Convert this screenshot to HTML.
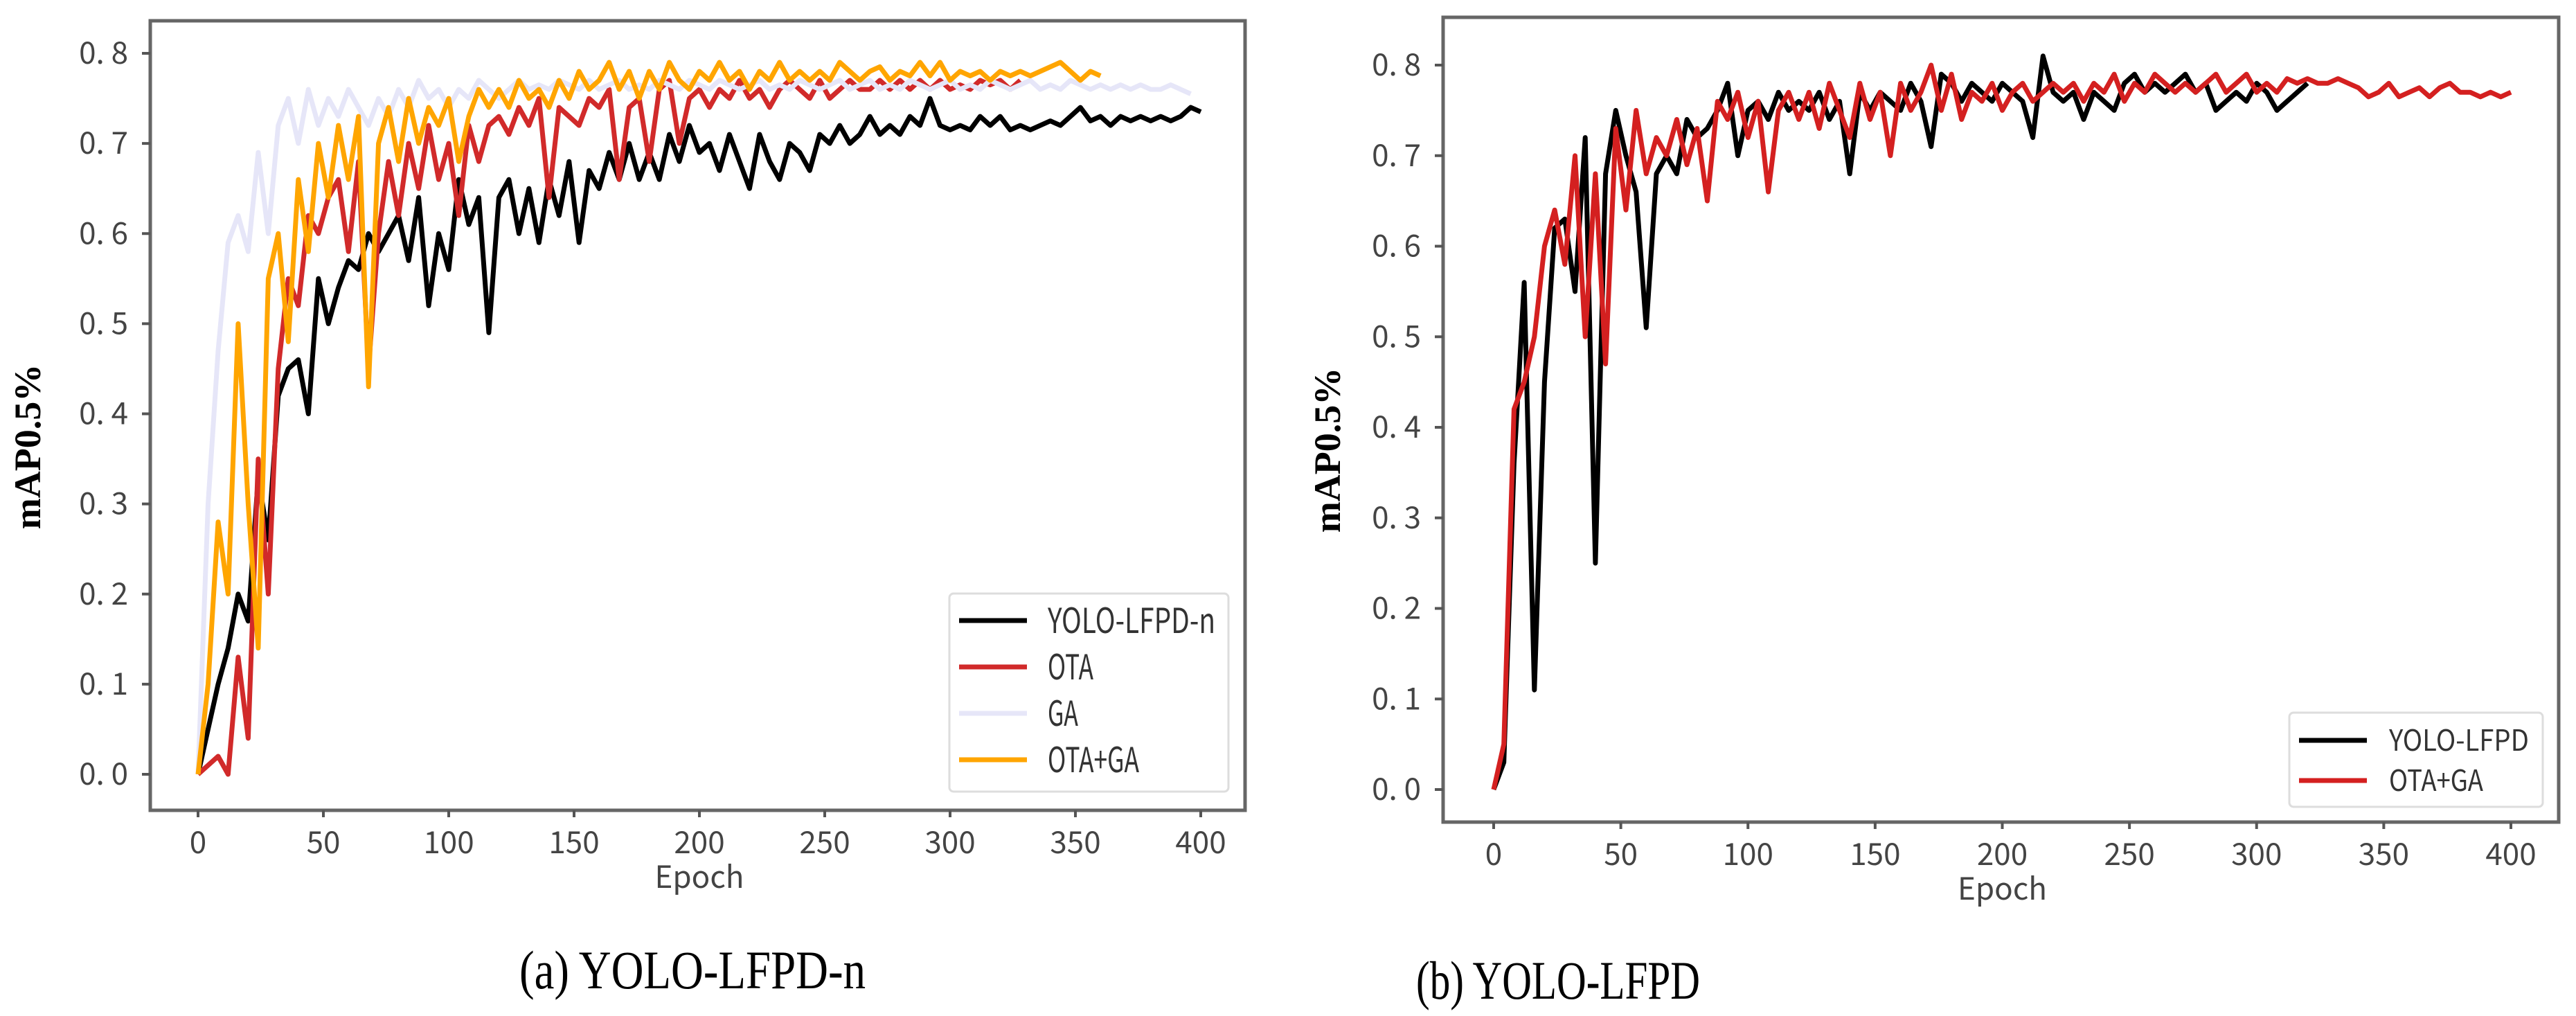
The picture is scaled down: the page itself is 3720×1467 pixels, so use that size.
<!DOCTYPE html>
<html><head><meta charset="utf-8"><style>
html,body{margin:0;padding:0;background:#fff;}
svg{display:block;}
.tick{font-family:"WenQuanYi Zen Hei","Noto Sans CJK SC",sans-serif;fill:#444;font-size:44px;}
.leg{font-family:"WenQuanYi Zen Hei","Noto Sans CJK SC",sans-serif;fill:#333;}
.ylab{font-family:"Liberation Serif",serif;font-weight:bold;font-size:54px;fill:#000;}
.cap{font-family:"Liberation Serif","Noto Serif CJK SC",serif;font-size:78px;fill:#000;}
</style></head><body>
<svg id="fig" width="3720" height="1467" viewBox="0 0 3720 1467" xmlns="http://www.w3.org/2000/svg">
<rect width="3720" height="1467" fill="#fff"/>
<g id="chartA"></g>
<g id="chartB"></g>
<text class="cap" x="750" y="1427" textLength="500" lengthAdjust="spacingAndGlyphs">(a) YOLO-LFPD-n</text>
<text class="cap" x="2045" y="1442" textLength="410" lengthAdjust="spacingAndGlyphs">(b) YOLO-LFPD</text>
</svg>
<script>
const xTicks=[0,50,100,150,200,250,300,350,400];
const yTicks=[0.0,0.1,0.2,0.3,0.4,0.5,0.6,0.7,0.8];
const yTickLabels=["0. 0","0. 1","0. 2","0. 3","0. 4","0. 5","0. 6","0. 7","0. 8"];
const stepEpochs=4;
// Chart A series (sampled every 4 epochs)
const aYolo=[0,0.05,0.1,0.14,0.2,0.17,0.33,0.26,0.42,0.45,0.46,0.4,0.55,0.5,0.54,0.57,0.56,0.6,0.58,0.6,0.62,0.57,0.64,0.52,0.6,0.56,0.66,0.61,0.64,0.49,0.64,0.66,0.6,0.65,0.59,0.66,0.62,0.68,0.59,0.67,0.65,0.69,0.66,0.7,0.66,0.69,0.66,0.71,0.68,0.72,0.69,0.7,0.67,0.71,0.68,0.65,0.71,0.68,0.66,0.7,0.69,0.67,0.71,0.7,0.72,0.7,0.71,0.73,0.71,0.72,0.71,0.73,0.72,0.75,0.72,0.715,0.72,0.715,0.73,0.72,0.73,0.715,0.72,0.715,0.72,0.725,0.72,0.73,0.74,0.725,0.73,0.72,0.73,0.725,0.73,0.725,0.73,0.725,0.73,0.74,0.735];
const aOta=[0,0.01,0.02,0.0,0.13,0.04,0.35,0.2,0.45,0.55,0.52,0.62,0.6,0.64,0.66,0.58,0.68,0.45,0.6,0.68,0.62,0.7,0.65,0.72,0.66,0.7,0.62,0.72,0.68,0.72,0.73,0.71,0.74,0.72,0.75,0.64,0.74,0.73,0.72,0.75,0.74,0.76,0.66,0.74,0.75,0.68,0.76,0.77,0.7,0.75,0.76,0.74,0.76,0.75,0.77,0.75,0.76,0.74,0.76,0.77,0.76,0.75,0.77,0.75,0.76,0.77,0.76,0.76,0.77,0.76,0.77,0.76,0.77,0.76,0.77,0.76,0.765,0.76,0.77,0.765,0.77,0.76,0.77];
const aGa=[0,0.3,0.47,0.59,0.62,0.58,0.69,0.6,0.72,0.75,0.7,0.76,0.72,0.75,0.73,0.76,0.74,0.72,0.75,0.73,0.76,0.74,0.77,0.75,0.76,0.74,0.76,0.75,0.77,0.76,0.75,0.76,0.77,0.76,0.765,0.76,0.77,0.765,0.76,0.77,0.76,0.765,0.77,0.76,0.765,0.76,0.77,0.765,0.76,0.77,0.765,0.76,0.77,0.765,0.76,0.765,0.77,0.76,0.765,0.76,0.77,0.765,0.76,0.765,0.77,0.76,0.765,0.77,0.76,0.765,0.76,0.77,0.765,0.76,0.765,0.77,0.76,0.765,0.76,0.77,0.765,0.76,0.765,0.77,0.76,0.765,0.76,0.77,0.765,0.76,0.765,0.76,0.765,0.76,0.765,0.76,0.76,0.765,0.76,0.755];
const aOtaGa=[0,0.1,0.28,0.2,0.5,0.3,0.14,0.55,0.6,0.48,0.66,0.58,0.7,0.64,0.72,0.66,0.73,0.43,0.7,0.74,0.68,0.75,0.7,0.74,0.72,0.75,0.68,0.73,0.76,0.74,0.76,0.74,0.77,0.75,0.76,0.74,0.77,0.75,0.78,0.76,0.77,0.79,0.76,0.78,0.75,0.78,0.76,0.79,0.77,0.76,0.78,0.77,0.79,0.77,0.78,0.76,0.78,0.77,0.79,0.77,0.78,0.77,0.78,0.77,0.79,0.78,0.77,0.78,0.785,0.77,0.78,0.775,0.79,0.775,0.79,0.77,0.78,0.775,0.78,0.77,0.78,0.775,0.78,0.775,0.78,0.785,0.79,0.78,0.77,0.78,0.775];
// Chart B series
const bYolo=[0,0.03,0.36,0.56,0.11,0.45,0.62,0.63,0.55,0.72,0.25,0.68,0.75,0.7,0.66,0.51,0.68,0.7,0.68,0.74,0.72,0.73,0.75,0.78,0.7,0.75,0.76,0.74,0.77,0.75,0.76,0.75,0.77,0.74,0.76,0.68,0.77,0.75,0.77,0.76,0.75,0.78,0.76,0.71,0.79,0.78,0.76,0.78,0.77,0.76,0.78,0.77,0.76,0.72,0.81,0.77,0.76,0.77,0.74,0.77,0.76,0.75,0.78,0.79,0.77,0.78,0.77,0.78,0.79,0.77,0.78,0.75,0.76,0.77,0.76,0.78,0.77,0.75,0.76,0.77,0.78];
const bOtaGa=[0,0.05,0.42,0.45,0.5,0.6,0.64,0.58,0.7,0.5,0.68,0.47,0.73,0.64,0.75,0.68,0.72,0.7,0.74,0.69,0.73,0.65,0.76,0.74,0.77,0.72,0.76,0.66,0.75,0.77,0.74,0.77,0.73,0.78,0.75,0.72,0.78,0.74,0.77,0.7,0.78,0.75,0.77,0.8,0.75,0.79,0.74,0.77,0.76,0.78,0.75,0.77,0.78,0.76,0.77,0.78,0.77,0.78,0.76,0.78,0.77,0.79,0.76,0.78,0.77,0.79,0.78,0.77,0.78,0.77,0.78,0.79,0.77,0.78,0.79,0.77,0.78,0.77,0.785,0.78,0.785,0.78,0.78,0.785,0.78,0.775,0.765,0.77,0.78,0.765,0.77,0.775,0.765,0.775,0.78,0.77,0.77,0.765,0.77,0.765,0.77];

const NS="http://www.w3.org/2000/svg";
function mk(parent,tag,attrs){const e=document.createElementNS(NS,tag);for(const k in attrs)e.setAttribute(k,attrs[k]);parent.appendChild(e);return e;}

function drawChart(g,cfg,series,legendCfg){
  const xs=v=>cfg.x0+(cfg.x400-cfg.x0)*v/400;
  const ys=v=>cfg.y0+(cfg.y8-cfg.y0)*v/0.8;
  series.forEach(s=>{
    const pts=s.data.map((v,i)=>xs(i*stepEpochs).toFixed(1)+","+ys(v).toFixed(1)).join(" ");
    const p=mk(g,"polyline",{points:pts,fill:"none",stroke:s.color,"stroke-width":7,"stroke-linejoin":"round"});
    
    
  });
  const fr=mk(g,"rect",{x:cfg.L,y:cfg.T,width:cfg.R-cfg.L,height:cfg.B-cfg.T,fill:"none",stroke:"#666","stroke-width":5});
  
  
  xTicks.forEach(t=>{
    const x=xs(t);
    const tk=mk(g,"line",{x1:x,x2:x,y1:cfg.B,y2:cfg.B+10,stroke:"#555","stroke-width":4});
    
    
    const tl=mk(g,"text",{x:x,y:cfg.B+62,"text-anchor":"middle",class:"tick"});
    tl.textContent=String(t);
    
    
  });
  yTicks.forEach((t,i)=>{
    const y=ys(t);
    const tk=mk(g,"line",{x1:cfg.L-12,x2:cfg.L,y1:y,y2:y,stroke:"#555","stroke-width":4});
    
    
    const tl=mk(g,"text",{x:cfg.L-32,y:y+15,"text-anchor":"end",class:"tick"});
    tl.textContent=yTickLabels[i];
    
    
  });
  const xl=mk(g,"text",{x:(cfg.x0+cfg.x400)/2,y:cfg.B+112,"text-anchor":"middle",class:"tick","font-size":40});
  xl.textContent="Epoch";
  
  
  const yl=mk(g,"text",{x:0,y:0,"text-anchor":"middle",class:"ylab",transform:"translate("+cfg.ylx+","+cfg.yly+") rotate(-90)"});
  yl.textContent="mAP0.5%";
  
  
  const lg=mk(g,"g",{});
  
  
  mk(lg,"rect",{x:legendCfg.x,y:legendCfg.y,width:legendCfg.w,height:legendCfg.h,rx:6,fill:"#fff",stroke:"#ddd","stroke-width":3});
  series.forEach((s,i)=>{
    const ry=legendCfg.y+legendCfg.first+i*legendCfg.gap;
    const e=mk(lg,"g",{});
    
    
    mk(e,"line",{x1:legendCfg.x+14,x2:legendCfg.x+112,y1:ry,y2:ry,stroke:s.color,"stroke-width":7});
    const t=mk(e,"text",{x:legendCfg.x+legendCfg.tx,y:ry+legendCfg.fs*0.36,class:"leg","font-size":legendCfg.fs,textLength:s.len,lengthAdjust:"spacingAndGlyphs"});
    t.textContent=s.label;
  });
}

drawChart(document.getElementById("chartA"),
  {L:217,T:30,R:1798,B:1170,x0:286,x400:1734,y0:1118,y8:77,ylx:58,yly:645},
  [{name:"yolo-lfpd-n",label:"YOLO-LFPD-n",color:"#000",data:aYolo,len:242},
   {name:"ota",label:"OTA",color:"#d12a2a",data:aOta,len:66},
   {name:"ga",label:"GA",color:"#e6e6f8",data:aGa,len:44},
   {name:"ota-ga",label:"OTA+GA",color:"#ffa500",data:aOtaGa,len:132}],
  {x:1371,y:857,w:403,h:286,first:39,gap:67,tx:142,fs:50});
drawChart(document.getElementById("chartB"),
  {L:2084,T:25,R:3695,B:1187,x0:2157,x400:3626,y0:1140,y8:94,ylx:1935,yly:650},
  [{name:"yolo-lfpd",label:"YOLO-LFPD",color:"#000",data:bYolo,len:202},
   {name:"ota-ga",label:"OTA+GA",color:"#d42020",data:bOtaGa,len:136}],
  {x:3306,y:1029,w:366,h:136,first:40,gap:58,tx:144,fs:42});
</script>
</body></html>
